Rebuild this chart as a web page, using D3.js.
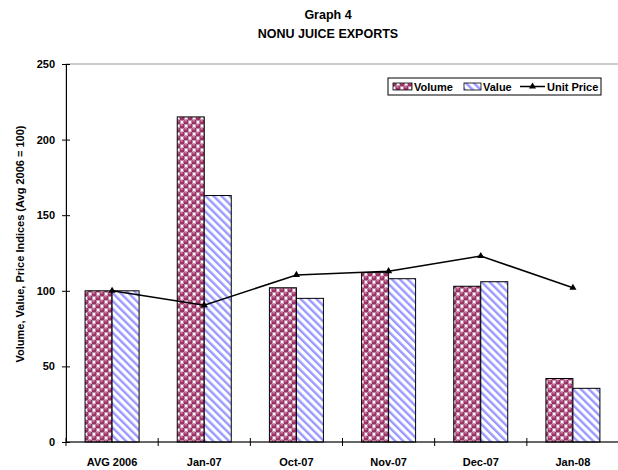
<!DOCTYPE html>
<html>
<head>
<meta charset="utf-8">
<script src="https://cdn.jsdelivr.net/npm/d3@7"></script>
<style>
  html, body { margin: 0; padding: 0; background: #fff; }
  svg { display: block; font-family: "Liberation Sans", Arial, sans-serif; }
</style>
</head>
<body>
<svg id="chart" width="618" height="470"></svg>
<script>
// Nonu juice export indices (Avg 2006 = 100)
const categories = ["AVG 2006", "Jan-07", "Oct-07", "Nov-07", "Dec-07", "Jan-08"];
const volume = [100, 215, 102, 112, 103, 42];
const value = [100, 163, 95, 108, 106, 35.5];
const unitPrice = [100, 90.5, 110.5, 113, 123, 102];
const yTicks = [0, 50, 100, 150, 200, 250];

const svg = d3.select("#chart");
const plot = { left: 66, top: 64, right: 619, bottom: 442 };

const x = d3.scaleBand().domain(categories).range([plot.left, plot.right]);
const y = d3.scaleLinear().domain([0, 250]).range([plot.bottom, plot.top]);
const barW = 27;

// Fill patterns: maroon ball-checker for volume, blue diagonal hatch for value
const defs = svg.append("defs");
const pv = defs.append("pattern").attr("id", "pVolume")
  .attr("patternUnits", "userSpaceOnUse").attr("width", 8).attr("height", 8);
pv.append("rect").attr("width", 8).attr("height", 8).attr("fill", "#fff");
pv.append("rect").attr("x", 0).attr("y", 0).attr("width", 8).attr("height", 8).attr("fill", "#e8c4d6");
[[2, 2], [6, 6]].forEach(([cx, cy]) => {
  pv.append("circle").attr("cx", cx).attr("cy", cy).attr("r", 2.6).attr("fill", "#993366");
  pv.append("ellipse").attr("cx", cx - 0.4).attr("cy", cy - 1.1).attr("rx", 1.3).attr("ry", 0.7).attr("fill", "#d9a3bf");
});
pv.append("rect").attr("x", 4.8).attr("y", 0.8).attr("width", 2.6).attr("height", 2.6).attr("fill", "#fff");
pv.append("rect").attr("x", 0.8).attr("y", 4.8).attr("width", 2.6).attr("height", 2.6).attr("fill", "#fff");
// wrap circles across tile edges
[[10, 2], [2, 10], [-2, 6], [6, -2]].forEach(([cx, cy]) => {
  pv.append("circle").attr("cx", cx).attr("cy", cy).attr("r", 2.6).attr("fill", "#993366");
});

const ph = defs.append("pattern").attr("id", "pValue")
  .attr("patternUnits", "userSpaceOnUse").attr("width", 5.6).attr("height", 10)
  .attr("patternTransform", "rotate(-45)");
ph.append("rect").attr("width", 5.6).attr("height", 10).attr("fill", "#fff");
ph.append("rect").attr("width", 2.4).attr("height", 10).attr("fill", "#9999ff");

// Plot area frame
svg.append("rect")
  .attr("x", plot.left).attr("y", plot.top)
  .attr("width", plot.right - plot.left + 10).attr("height", plot.bottom - plot.top)
  .attr("fill", "none").attr("stroke", "#9a9a9a").attr("stroke-width", 1);

// Bars
const g = svg.append("g");
g.selectAll("rect.vol").data(volume).join("rect").attr("class", "vol")
  .attr("x", (d, i) => x(categories[i]) + x.bandwidth() / 2 - barW)
  .attr("y", d => y(d))
  .attr("width", barW)
  .attr("height", d => y(0) - y(d))
  .attr("fill", "url(#pVolume)").attr("stroke", "#000").attr("stroke-width", 1);
g.selectAll("rect.val").data(value).join("rect").attr("class", "val")
  .attr("x", (d, i) => x(categories[i]) + x.bandwidth() / 2)
  .attr("y", d => y(d))
  .attr("width", barW)
  .attr("height", d => y(0) - y(d))
  .attr("fill", "url(#pValue)").attr("stroke", "#000").attr("stroke-width", 1);

// Unit price line
const line = d3.line()
  .x((d, i) => x(categories[i]) + x.bandwidth() / 2)
  .y(d => y(d));
svg.append("path").datum(unitPrice).attr("d", line)
  .attr("fill", "none").attr("stroke", "#000").attr("stroke-width", 1.5);
const tri = d3.symbol().type(d3.symbolTriangle).size(22);
svg.selectAll("path.mk").data(unitPrice).join("path").attr("class", "mk")
  .attr("d", tri)
  .attr("transform", (d, i) => `translate(${x(categories[i]) + x.bandwidth() / 2},${y(d)})`)
  .attr("fill", "#000");

// Axes
const yAxis = d3.axisLeft(y).tickValues(yTicks).tickSizeInner(4).tickSizeOuter(0).tickPadding(7);
const ya = svg.append("g").attr("transform", `translate(${plot.left},0)`).call(yAxis);
ya.selectAll(".tick line").attr("x2", 4).attr("x1", -4);
ya.select(".domain").attr("stroke", "#000");
ya.selectAll("text").attr("font-size", 11).attr("font-weight", "bold").attr("fill", "#000")
  .attr("font-family", "Liberation Sans, Arial, sans-serif");

const xa = svg.append("g").attr("transform", `translate(0,${plot.bottom})`);
xa.append("line").attr("x1", plot.left).attr("x2", 618).attr("y1", 0).attr("y2", 0).attr("stroke", "#000");
const bounds = categories.map(c => x(c)).concat([plot.right]);
xa.selectAll("line.tk").data(bounds).join("line").attr("class", "tk")
  .attr("x1", d => d).attr("x2", d => d).attr("y1", -4).attr("y2", 4).attr("stroke", "#000");
xa.selectAll("text").data(categories).join("text")
  .attr("x", d => x(d) + x.bandwidth() / 2).attr("y", 24)
  .attr("text-anchor", "middle").attr("font-size", 11).attr("font-weight", "bold")
  .text(d => d);

// Y axis title
svg.append("text")
  .attr("transform", "translate(24,244) rotate(-90)")
  .attr("text-anchor", "middle").attr("font-size", 11).attr("font-weight", "bold")
  .text("Volume, Value, Price Indices (Avg 2006 = 100)");

// Title
svg.append("text").attr("x", 328).attr("y", 19).attr("text-anchor", "middle")
  .attr("font-size", 12.5).attr("font-weight", "bold").text("Graph 4");
svg.append("text").attr("x", 328).attr("y", 38).attr("text-anchor", "middle")
  .attr("font-size", 12.5).attr("font-weight", "bold").text("NONU JUICE EXPORTS");

// Legend
const lg = svg.append("g").attr("transform", "translate(388,78)");
lg.append("rect").attr("width", 213).attr("height", 17).attr("fill", "#fff").attr("stroke", "#000");
lg.append("rect").attr("x", 5).attr("y", 5).attr("width", 19).attr("height", 7)
  .attr("fill", "url(#pVolume)").attr("stroke", "#000").attr("stroke-width", 0.8);
lg.append("text").attr("x", 26).attr("y", 12.5).attr("font-size", 11).attr("font-weight", "bold").text("Volume");
lg.append("rect").attr("x", 76).attr("y", 5).attr("width", 17).attr("height", 7)
  .attr("fill", "url(#pValue)").attr("stroke", "#000").attr("stroke-width", 0.8);
lg.append("text").attr("x", 95).attr("y", 12.5).attr("font-size", 11).attr("font-weight", "bold").text("Value");
lg.append("line").attr("x1", 132).attr("x2", 157).attr("y1", 8.5).attr("y2", 8.5).attr("stroke", "#000").attr("stroke-width", 1.5);
lg.append("path").attr("d", tri).attr("transform", "translate(144.5,8.5)").attr("fill", "#000");
lg.append("text").attr("x", 159).attr("y", 12.5).attr("font-size", 11).attr("font-weight", "bold").text("Unit Price");
</script>
</body>
</html>
